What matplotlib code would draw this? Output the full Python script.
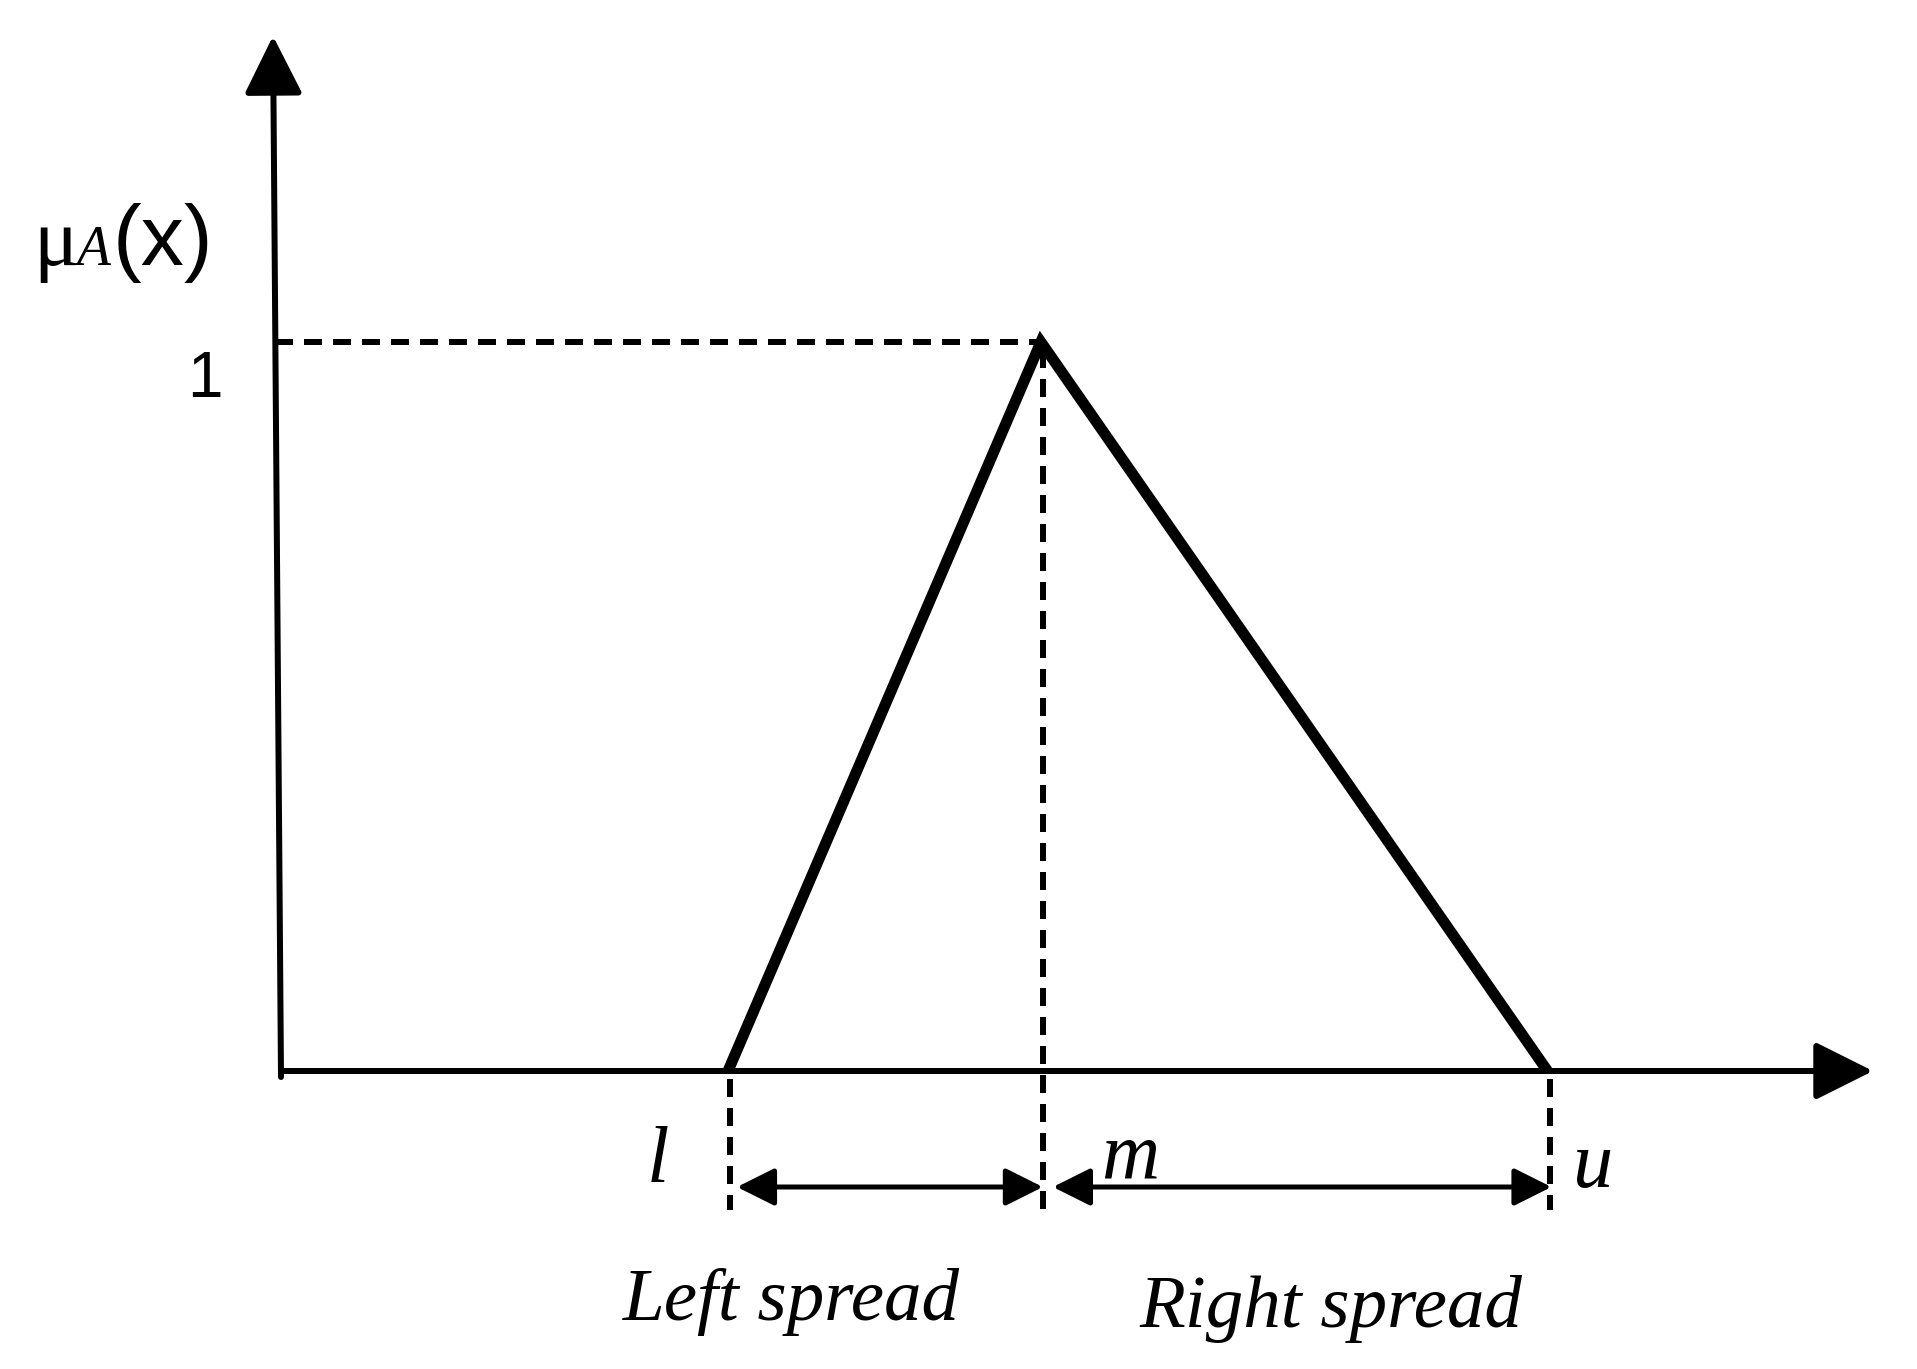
import matplotlib
matplotlib.use("Agg")
import matplotlib.pyplot as plt
from matplotlib.patches import FancyArrowPatch

# triangular fuzzy number (l, m, u) and its membership values
tfn_x = [3.0, 5.1, 8.5]
tfn_mu = [0.0, 1.0, 0.0]
point_labels = ["l", "m", "u"]
spread_labels = ["Left spread", "Right spread"]
y_label_main, y_label_sub, y_label_arg = "\u03bc", "A", "(x)"
one_label = "1"

W, H, DPI = 1917, 1369, 100
# layout of the reference in pixels
X0_PX, Y0_PX = 281, 1071     # origin
UX_PX, UY_PX = 149, 729      # pixels per x unit / per mu unit

fig = plt.figure(figsize=(W / DPI, H / DPI), dpi=DPI)
ax = fig.add_axes([0, 0, 1, 1])
ax.set_xlim(-X0_PX / UX_PX, (W - X0_PX) / UX_PX)
ax.set_ylim((Y0_PX - H) / UY_PX, Y0_PX / UY_PX)
ax.axis("off")

plt.rcParams["lines.scale_dashes"] = False
px = 0.72  # points per pixel


def dx(p):
    return p / UX_PX


def dy(p):
    return p / UY_PX


serif = "Liberation Serif"
sans = "Liberation Sans"

# axes with arrow heads
x_end = dx(1873 - X0_PX)
y_end = dy(Y0_PX - 36)
axis_style = dict(arrowstyle="-|>,head_length=%g,head_width=%g" % (50 * px, 25 * px),
                  mutation_scale=1, color="black", lw=6 * px, shrinkA=0, shrinkB=0)
ax.add_patch(FancyArrowPatch((0, 0), (x_end, 0), **axis_style))
ax.add_patch(FancyArrowPatch((0, -dy(6)), (-dx(8), y_end), **axis_style))

# triangle
ax.plot(tfn_x, tfn_mu, color="black", lw=11 * px, solid_joinstyle="miter",
        solid_capstyle="butt")

# dashed guides
dash = dict(color="black", lw=6 * px, dashes=(18 * px, 11 * px))
peak = tfn_mu.index(max(tfn_mu))
ax.plot([-dx(6), tfn_x[peak]], [tfn_mu[peak]] * 2, **dash)
y_bot = -dy(1210 - Y0_PX)
for i, xv in enumerate(tfn_x):
    top = tfn_mu[i] - dy(8)
    ax.plot([xv + dx(2), xv + dx(2)], [top, y_bot], **dash)

# spread arrows
arr_y = -dy(1187 - Y0_PX)
arr_style = dict(arrowstyle="<|-|>,head_length=%g,head_width=%g" % (32 * px, 16 * px),
                 mutation_scale=1, color="black", lw=5 * px, shrinkA=0, shrinkB=0)
ax.add_patch(FancyArrowPatch((tfn_x[0] + dx(9), arr_y), (tfn_x[1] + dx(2), arr_y), **arr_style))
ax.add_patch(FancyArrowPatch((tfn_x[1] + dx(12), arr_y), (tfn_x[2] + dx(4), arr_y), **arr_style))

# point labels l, m, u
lab_off = [(-dx(70), -dy(1182 - Y0_PX)), (dx(60), -dy(1178 - Y0_PX)), (dx(25), -dy(1187 - Y0_PX))]
lab_ha = ["center", "left", "left"]
for xv, lab, (ox, oy), ha in zip(tfn_x, point_labels, lab_off, lab_ha):
    ax.text(xv + ox, oy, lab, fontsize=58, style="italic", family=serif,
            ha=ha, va="baseline")

# spread labels
ax.text(tfn_x[0] - dx(105), -dy(1320 - Y0_PX), spread_labels[0],
        fontsize=54, style="italic", family=serif, ha="left", va="baseline")
ax.text(tfn_x[1] + dx(99), -dy(1327 - Y0_PX), spread_labels[1],
        fontsize=54, style="italic", family=serif, ha="left", va="baseline")

# y labels
fig.text(205 / W, 1 - 397 / H, one_label, fontsize=46, family=sans,
         ha="center", va="baseline")
fig.text(33 / W, 1 - 265 / H, y_label_main, fontsize=60, family=serif,
         ha="left", va="baseline")
fig.text(76 / W, 1 - 265 / H, y_label_sub, fontsize=40, family=serif, style="italic",
         ha="left", va="baseline")
fig.text(113 / W, 1 - 265 / H, y_label_arg, fontsize=62, family=sans,
         ha="left", va="baseline")

fig.savefig("out.png", dpi=DPI, facecolor="white")
